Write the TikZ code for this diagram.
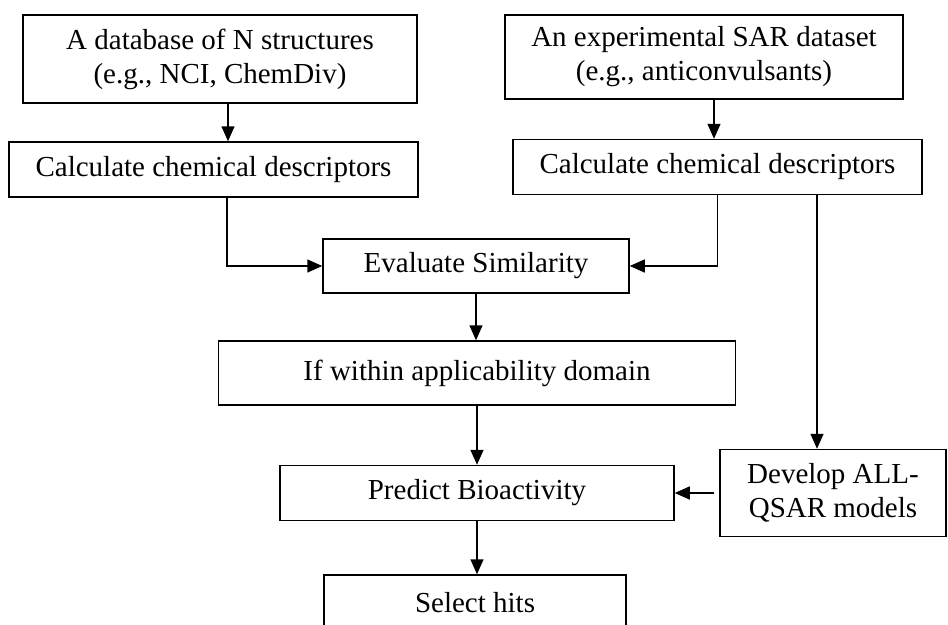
\documentclass[tikz,border=0pt]{standalone}
\usepackage{fontspec}
\setmainfont{Liberation Serif}
\usepackage{tikz}
\usetikzlibrary{arrows.meta,calc,positioning}
\tikzstyle{box}  =[draw, line width=1.5pt, inner sep=2pt,
                   align=center, font=\fontsize{29}{34}\selectfont]
\tikzstyle{edge} =[-{Triangle[length=15pt,width=13pt]},
                   line width=1.5pt]

\begin{document}
\begin{tikzpicture}[x=1pt,y=-1pt]
    \useasboundingbox (0,0) rectangle (948,624);

    % inputs
    \node (db)  [box,minimum width=394pt,minimum height=88pt] at (220,59) {A database of N structures\\(e.g., NCI, ChemDiv)};
    \node (sar) [box,minimum width=398pt,minimum height=84pt] at (704,57) {An experimental SAR dataset\\(e.g., anticonvulsants)};

    % descriptors
    \node (calcL) [box,minimum width=409pt,minimum height=55pt] at (213.5,169.5) {Calculate chemical descriptors};
    \node (calcR) [box,minimum width=409pt,minimum height=55pt] at (717.5,167) {Calculate chemical descriptors};

    % main column
    \node (eval) [box,minimum width=306pt,minimum height=54pt] at (476,266) {Evaluate Similarity};
    \node (appl) [box,minimum width=517pt,minimum height=64pt] at (477,373) {If within applicability domain};
    \node (pred) [box,minimum width=394pt,minimum height=55pt] at (477,493) {Predict Bioactivity};
    \node (sel)  [box,minimum width=302pt,minimum height=56pt] at (475,603) {Select hits};
    \node (dev)  [box,minimum width=226pt,minimum height=87pt] at (833,493) {Develop ALL-\\QSAR models};

    \coordinate (devin) at ([xshift=-16pt]dev.north);

    \draw [edge] ([xshift=8pt]db.south) -- ([xshift=8pt]db.south |- calcL.north);
    \draw [edge] ([xshift=10pt]sar.south) -- ([xshift=10pt]sar.south |- calcR.north);
    \draw [edge] ([xshift=13.5pt]calcL.south) |- (eval.west);
    \draw [edge] (calcR.south) |- (eval.east);
    \draw [edge] (calcR.south -| devin) -- (devin);
    \draw [edge] ([xshift=-5pt]dev.west) -- (pred.east);

    \foreach \i/\j in{eval/appl,appl/pred,pred/sel}
        \draw [edge] (\i.south) -- (\i.south |- \j.north);

\end{tikzpicture}
\end{document}
